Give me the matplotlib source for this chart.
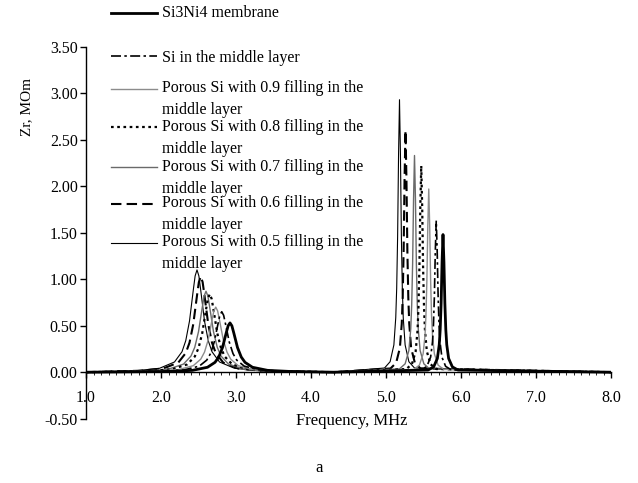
"""Zr vs frequency for membrane variants"""
import matplotlib
matplotlib.use("Agg")
from matplotlib import pyplot as plt
from matplotlib.lines import Line2D
from matplotlib.ticker import MultipleLocator, FormatStrFormatter

plt.rcParams["font.family"] = ["Liberation Serif", "DejaVu Serif"]
plt.rcParams["font.size"] = 11.5

# values (frequency in MHz, Zr in MOm)
membrane_x = [1.0, 2.12, 2.42, 2.62, 2.72, 2.77, 2.82, 2.87, 2.895, 2.92, 2.945, 2.97, 3.02, 3.07, 3.12, 3.22, 3.42, 3.72,
              4.3, 5.56, 5.635, 5.685, 5.71, 5.7225, 5.735, 5.7475, 5.76, 5.7725, 5.785, 5.7975, 5.81, 5.835, 5.885, 5.96, 8.0]
membrane_y = [0.0, 0.008, 0.020, 0.053, 0.106, 0.163, 0.265, 0.424, 0.499, 0.53, 0.499, 0.424, 0.265, 0.163, 0.106, 0.053, 0.020, 0.008,
              0.0, 0.023, 0.057, 0.148, 0.296, 0.456, 0.74, 1.184, 1.48, 1.184, 0.74, 0.456, 0.296, 0.148, 0.057, 0.023, 0.0]

si_x = [1.0, 2.01, 2.31, 2.51, 2.61, 2.66, 2.71, 2.76, 2.785, 2.81, 2.835, 2.86, 2.91, 2.96, 3.01, 3.11, 3.31, 3.61,
        4.3, 5.47, 5.545, 5.595, 5.62, 5.6325, 5.645, 5.6575, 5.67, 5.6825, 5.695, 5.7075, 5.72, 5.745, 5.795, 5.87, 8.0]
si_y = [0.0, 0.010, 0.025, 0.065, 0.13, 0.20, 0.325, 0.52, 0.612, 0.65, 0.612, 0.52, 0.325, 0.20, 0.13, 0.065, 0.025, 0.010,
        0.0, 0.025, 0.063, 0.163, 0.326, 0.502, 0.815, 1.304, 1.63, 1.304, 0.815, 0.502, 0.326, 0.163, 0.063, 0.025, 0.0]

p09_x = [1.0, 1.93, 2.23, 2.43, 2.53, 2.58, 2.63, 2.68, 2.705, 2.73, 2.755, 2.78, 2.83, 2.88, 2.93, 3.03, 3.23, 3.53,
         4.3, 5.37, 5.445, 5.495, 5.52, 5.5325, 5.545, 5.5575, 5.57, 5.5825, 5.595, 5.6075, 5.62, 5.645, 5.695, 5.77, 8.0]
p09_y = [0.0, 0.011, 0.027, 0.070, 0.14, 0.216, 0.35, 0.56, 0.659, 0.70, 0.659, 0.56, 0.35, 0.216, 0.14, 0.070, 0.027, 0.011,
         0.0, 0.030, 0.076, 0.197, 0.394, 0.607, 0.985, 1.576, 1.97, 1.576, 0.985, 0.607, 0.394, 0.197, 0.076, 0.030, 0.0]

p08_x = [1.0, 1.85, 2.15, 2.35, 2.45, 2.50, 2.55, 2.60, 2.625, 2.65, 2.675, 2.70, 2.75, 2.80, 2.85, 2.95, 3.15, 3.45,
         4.3, 5.27, 5.345, 5.395, 5.42, 5.4325, 5.445, 5.4575, 5.47, 5.4825, 5.495, 5.5075, 5.52, 5.545, 5.595, 5.67, 8.0]
p08_y = [0.0, 0.013, 0.032, 0.084, 0.168, 0.259, 0.42, 0.672, 0.790, 0.84, 0.790, 0.672, 0.42, 0.259, 0.168, 0.084, 0.032, 0.013,
         0.0, 0.034, 0.085, 0.222, 0.444, 0.684, 1.11, 1.776, 2.22, 1.776, 1.11, 0.684, 0.444, 0.222, 0.085, 0.034, 0.0]

p07_x = [1.0, 1.80, 2.10, 2.30, 2.40, 2.45, 2.50, 2.55, 2.575, 2.60, 2.625, 2.65, 2.70, 2.75, 2.80, 2.90, 3.10, 3.40,
         4.3, 5.18, 5.255, 5.305, 5.33, 5.3425, 5.355, 5.3675, 5.38, 5.3925, 5.405, 5.4175, 5.43, 5.455, 5.505, 5.58, 8.0]
p07_y = [0.0, 0.013, 0.033, 0.087, 0.174, 0.268, 0.435, 0.696, 0.819, 0.87, 0.819, 0.696, 0.435, 0.268, 0.174, 0.087, 0.033, 0.013,
         0.0, 0.036, 0.090, 0.233, 0.466, 0.718, 1.165, 1.864, 2.33, 1.864, 1.165, 0.718, 0.466, 0.233, 0.090, 0.036, 0.0]

p06_x = [1.0, 1.73, 2.03, 2.23, 2.33, 2.38, 2.43, 2.48, 2.505, 2.53, 2.555, 2.58, 2.63, 2.68, 2.73, 2.83, 3.03, 3.33,
         4.3, 5.06, 5.135, 5.185, 5.21, 5.2225, 5.235, 5.2475, 5.26, 5.2725, 5.285, 5.2975, 5.31, 5.335, 5.385, 5.46, 8.0]
p06_y = [0.0, 0.016, 0.040, 0.103, 0.206, 0.317, 0.515, 0.824, 0.969, 1.03, 0.969, 0.824, 0.515, 0.317, 0.206, 0.103, 0.040, 0.016,
         0.0, 0.040, 0.100, 0.26, 0.52, 0.801, 1.30, 2.08, 2.60, 2.08, 1.30, 0.801, 0.52, 0.26, 0.100, 0.040, 0.0]

p05_x = [1.0, 1.68, 1.98, 2.18, 2.28, 2.33, 2.38, 2.43, 2.455, 2.48, 2.505, 2.53, 2.58, 2.63, 2.68, 2.78, 2.98, 3.28,
         4.3, 4.98, 5.055, 5.105, 5.13, 5.1425, 5.155, 5.1675, 5.18, 5.1925, 5.205, 5.2175, 5.23, 5.255, 5.305, 5.38, 8.0]
p05_y = [0.0, 0.017, 0.042, 0.110, 0.22, 0.339, 0.55, 0.88, 1.035, 1.10, 1.035, 0.88, 0.55, 0.339, 0.22, 0.110, 0.042, 0.017,
         0.0, 0.045, 0.113, 0.293, 0.586, 0.902, 1.465, 2.344, 2.93, 2.344, 1.465, 0.902, 0.586, 0.293, 0.113, 0.045, 0.0]

labels = [
    "Si3Ni4 membrane",
    "Si in the middle layer",
    "Porous Si with 0.9 filling in the\nmiddle layer",
    "Porous Si with 0.8 filling in the\nmiddle layer",
    "Porous Si with 0.7 filling in the\nmiddle layer",
    "Porous Si with 0.6 filling in the\nmiddle layer",
    "Porous Si with 0.5 filling in the\nmiddle layer",
]

W, H = 638, 483
styles = [
    dict(color="black", lw=2.0, ls="-"),
    dict(color="black", lw=1.2, ls=(0, (6, 2, 1.5, 2))),
    dict(color="#8c8c8c", lw=1.0, ls="-"),
    dict(color="black", lw=1.6, ls=(0, (1.2, 1.6))),
    dict(color="#6a6a6a", lw=1.0, ls="-"),
    dict(color="black", lw=1.5, ls=(0, (5, 2.5))),
    dict(color="black", lw=0.8, ls="-"),
]
series = [(membrane_x, membrane_y), (si_x, si_y), (p09_x, p09_y), (p08_x, p08_y),
          (p07_x, p07_y), (p06_x, p06_y), (p05_x, p05_y)]

fig = plt.figure(figsize=(W / 100, H / 100), dpi=100)
ax = fig.add_axes([86 / W, 1 - 418.7 / H, 525 / W, 372 / H])

for (xs, ys), st in reversed(list(zip(series, styles))):
    ax.plot(xs, ys, solid_joinstyle="round", **st)

ax.set_xlim(1.0, 8.0)
ax.set_ylim(-0.5, 3.5)
for side in ("top", "right"):
    ax.spines[side].set_visible(False)
ax.spines["bottom"].set_position(("data", 0))
ax.spines["bottom"].set_linewidth(1.0)
ax.spines["left"].set_linewidth(1.0)

ax.xaxis.set_major_locator(MultipleLocator(1.0))
ax.xaxis.set_minor_locator(MultipleLocator(0.1))
ax.xaxis.set_major_formatter(FormatStrFormatter("%.1f"))
ax.yaxis.set_major_locator(MultipleLocator(0.5))
ax.yaxis.set_major_formatter(FormatStrFormatter("%.2f"))
ax.tick_params(axis="x", which="major", direction="out", length=4, width=1, pad=9, labelsize=11.5)
ax.tick_params(axis="x", which="minor", direction="out", length=2, width=0.6)
ax.tick_params(axis="y", direction="out", length=4, width=1, pad=2, labelsize=11.5)

fig.text(352 / W, 1 - 421 / H, "Frequency, MHz", ha="center", va="center", fontsize=12)
fig.text(27 / W, 1 - 107 / H, "Zr, MOm", ha="center", va="center", rotation=90, fontsize=11)
fig.text(319 / W, 1 - 468 / H, "a", ha="center", va="center", fontsize=12)

# hand-placed legend, as in the source figure
handle_y = [12.7, 56, 89.3, 126.7, 166.7, 204, 242.7]
text_y = [13.3, 58, 88.3, 126.7, 166.7, 203.3, 241.7]
for lab, st, hy, ty in zip(labels, styles, handle_y, text_y):
    fig.add_artist(Line2D([111 / W, 157 / W], [1 - hy / H, 1 - hy / H],
                          transform=fig.transFigure, **st))
    rows = lab.split("\n")
    fig.text(162 / W, 1 - ty / H, rows[0], ha="left", va="center", fontsize=11.5)
    if len(rows) > 1:
        fig.text(162 / W, 1 - (ty + 22) / H, rows[1], ha="left", va="center", fontsize=11.5)

fig.savefig("out.png", dpi=100)
